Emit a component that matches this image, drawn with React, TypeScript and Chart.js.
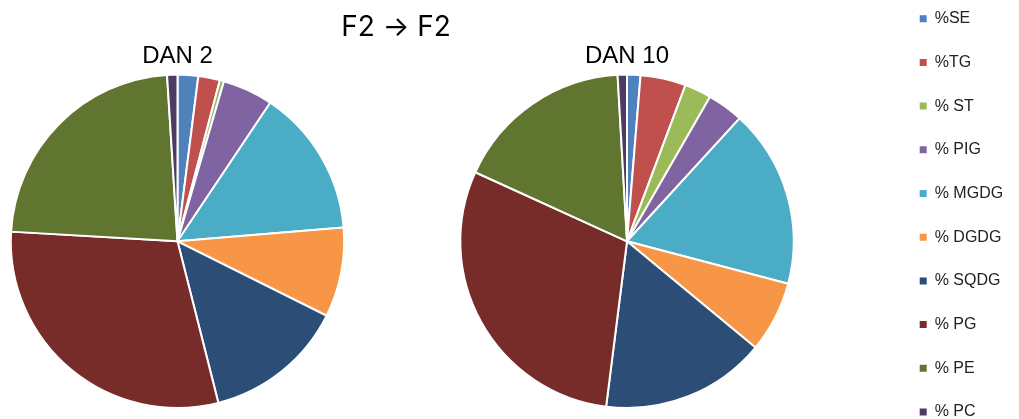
import React, { useEffect, useRef } from "react";
import { Chart, registerables } from "chart.js";

Chart.register(...registerables);

// ---- data ----
const categories = ["%SE", "%TG", "% ST", "% PIG", "% MGDG", "% DGDG", "% SQDG", "% PG", "% PE", "% PC"];
const dan2Values = [2.0, 2.1, 0.4, 4.9, 14.3, 8.7, 13.7, 29.9, 23.1, 1.0];
const dan10Values = [1.3, 4.4, 2.6, 3.5, 17.3, 6.9, 16.0, 29.8, 17.3, 0.9];
const sliceColors = ["#4F81BD", "#C0504D", "#9BBB59", "#8064A2", "#4BACC6", "#F79646", "#2C4D75", "#772C2A", "#5F7530", "#4D3B62"];
const mainTitle = "F2 \u2192 F2";
const pieTitles = ["DAN 2", "DAN 10"];

const FONT = "'Liberation Sans', Arial, sans-serif";
const TITLE_FONT = "Inter, 'Liberation Sans', sans-serif";

function pieConfig(title: string, values: number[]): any {
  return {
    type: "pie",
    data: {
      labels: categories,
      datasets: [
        {
          data: values,
          backgroundColor: sliceColors,
          borderColor: "#ffffff",
          borderWidth: 2,
        },
      ],
    },
    options: {
      responsive: false,
      animation: false,
      devicePixelRatio: 1,
      events: [],
      layout: { padding: { bottom: 10 } },
      plugins: {
        legend: { display: false },
        tooltip: { enabled: false },
        title: {
          display: true,
          text: title,
          color: "#000000",
          font: { family: FONT, size: 24, weight: "normal" },
          padding: { top: 42.3, bottom: 2.5 },
        },
      },
    },
  };
}

function legendConfig(): any {
  return {
    type: "pie",
    data: {
      labels: categories,
      datasets: [
        {
          data: dan10Values,
          backgroundColor: sliceColors,
          borderWidth: 0,
          radius: 0,
        },
      ],
    },
    options: {
      responsive: false,
      animation: false,
      devicePixelRatio: 1,
      events: [],
      radius: 0,
      plugins: {
        tooltip: { enabled: false },
        title: { display: false },
        legend: {
          display: true,
          position: "left",
          align: "start",
          maxWidth: 300,
          labels: {
            boxWidth: 7,
            boxHeight: 7,
            padding: 27.7,
            color: "#222222",
            font: { family: FONT, size: 16 },
          },
        },
      },
    },
  };
}

function titleConfig(): any {
  return {
    type: "pie",
    data: { labels: [], datasets: [] },
    options: {
      responsive: false,
      animation: false,
      devicePixelRatio: 1,
      events: [],
      plugins: {
        legend: { display: false },
        tooltip: { enabled: false },
        title: {
          display: true,
          text: mainTitle,
          color: "#000000",
          font: { family: TITLE_FONT, size: 28, weight: "normal" },
          padding: { top: 10.9, bottom: 0 },
        },
      },
    },
  };
}

function ChartCanvas(props: { make: () => any; left: number; top: number; width: number; height: number }) {
  const ref = useRef<HTMLCanvasElement>(null);
  useEffect(() => {
    const chart = new Chart(ref.current as HTMLCanvasElement, props.make());
    return () => chart.destroy();
  }, []);
  return (
    <canvas
      ref={ref}
      width={props.width}
      height={props.height}
      style={{ position: "absolute", left: props.left, top: props.top, width: props.width, height: props.height }}
    />
  );
}

export default function App() {
  return (
    <div
      style={{
        position: "fixed",
        left: 0,
        top: 0,
        width: 1019,
        height: 419,
        overflow: "hidden",
        background: "#ffffff",
      }}
    >
      <ChartCanvas make={() => pieConfig(pieTitles[0], dan2Values)} left={0} top={0} width={355} height={419} />
      <ChartCanvas make={() => pieConfig(pieTitles[1], dan10Values)} left={449} top={0} width={356} height={419} />
      <ChartCanvas make={titleConfig} left={0} top={0} width={792} height={45} />
      <ChartCanvas make={legendConfig} left={892} top={-17} width={400} height={470} />
    </div>
  );
}
